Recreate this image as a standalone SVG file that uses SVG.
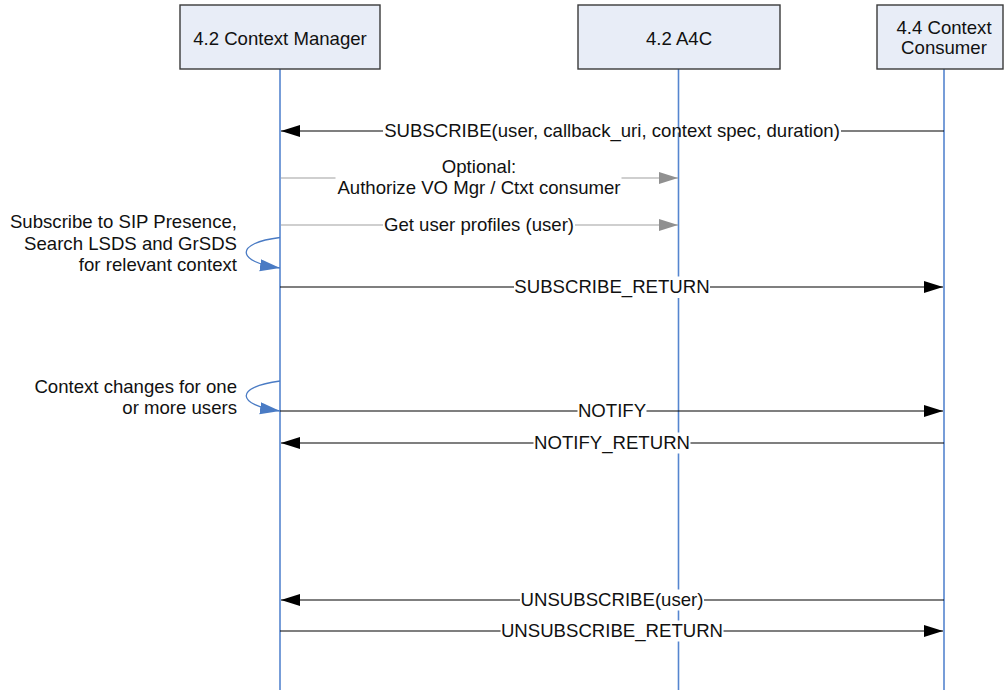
<svg xmlns="http://www.w3.org/2000/svg" width="1005" height="690" viewBox="0 0 1005 690">
<defs>
<style>
.box{fill:#E8EDF7;stroke:#3a3a3a;stroke-width:1.4}
.life{stroke:#5585CF;stroke-width:1.6;fill:none}
.t{font-family:"Liberation Sans",Arial,sans-serif;font-size:18.6px;fill:#111}
.msg{stroke:#000;stroke-width:1.2;fill:none;marker-end:url(#ah)}
.gmsg{stroke:#A0A0A0;stroke-width:1.2;fill:none;marker-end:url(#gah)}
.loop{stroke:#4A7BC4;stroke-width:1.3;fill:none;marker-end:url(#bah)}
.bg{fill:#fff}
</style>
<marker id="ah" markerUnits="userSpaceOnUse" markerWidth="20" markerHeight="14" refX="19" refY="6" orient="auto"><path d="M0,0 L19,6 L0,12 z" fill="#000"/></marker>
<marker id="gah" markerUnits="userSpaceOnUse" markerWidth="20" markerHeight="14" refX="19" refY="6" orient="auto"><path d="M0,0 L19,6 L0,12 z" fill="#909090"/></marker>
<marker id="bah" markerUnits="userSpaceOnUse" markerWidth="22" markerHeight="14" refX="20" refY="6" orient="auto"><path d="M0,0 L20,6 L0,12 z" fill="#4A7BC4"/></marker>
</defs>
<rect width="1005" height="690" fill="#fff"/>

<g id="lifelines">
<line class="life" x1="280" y1="69" x2="280" y2="690"/>
<line class="life" x1="678.5" y1="69" x2="678.5" y2="690"/>
<line class="life" x1="944" y1="69" x2="944" y2="690"/>
</g>

<g id="node-context-manager">
<rect class="box" x="180" y="5" width="200" height="64"/>
<text class="t" x="280" y="44.5" text-anchor="middle">4.2 Context Manager</text>
</g>
<g id="node-a4c">
<rect class="box" x="578" y="5" width="202" height="64"/>
<text class="t" x="679" y="44.5" text-anchor="middle">4.2 A4C</text>
</g>
<g id="node-context-consumer">
<rect class="box" x="877" y="5" width="126" height="64"/>
<text class="t" x="944" y="33.5" text-anchor="middle">4.4 Context</text>
<text class="t" x="944" y="53.5" text-anchor="middle">Consumer</text>
</g>

<g id="connectors">
<line class="msg" x1="944" y1="131" x2="281" y2="131"/>
<line x1="383" y1="131" x2="841" y2="131" stroke="#fff" stroke-width="3"/>
<text class="t" x="612" y="137" text-anchor="middle">SUBSCRIBE(user, callback_uri, context spec, duration)</text>

<line class="gmsg" x1="281" y1="178" x2="678" y2="178"/>
<rect class="bg" x="335.5" y="160" width="286" height="38"/>
<text class="t" x="479" y="173" text-anchor="middle">Optional:</text>
<text class="t" x="479" y="194" text-anchor="middle">Authorize VO Mgr / Ctxt consumer</text>

<line class="gmsg" x1="281" y1="225" x2="678" y2="225"/>
<rect class="bg" x="383" y="215" width="192" height="20"/>
<text class="t" x="479" y="231" text-anchor="middle">Get user profiles (user)</text>

<path class="loop" d="M280,237.5 C234,243 236,262 280,268"/>

<line class="msg" x1="280" y1="287" x2="943" y2="287"/>
<rect class="bg" x="514" y="276.5" width="196" height="21.5"/>
<text class="t" x="612" y="293" text-anchor="middle">SUBSCRIBE_RETURN</text>

<path class="loop" d="M280,381 C234,387 236,405 280,411"/>

<line class="msg" x1="280" y1="411" x2="943" y2="411"/>
<rect class="bg" x="577.5" y="400.5" width="69" height="21"/>
<text class="t" x="612" y="417" text-anchor="middle">NOTIFY</text>

<line class="msg" x1="944" y1="443" x2="281" y2="443"/>
<rect class="bg" x="533.5" y="432.5" width="157" height="21"/>
<text class="t" x="612" y="449" text-anchor="middle">NOTIFY_RETURN</text>

<line class="msg" x1="944" y1="600" x2="281" y2="600"/>
<rect class="bg" x="520" y="589.5" width="184" height="21"/>
<text class="t" x="612" y="606" text-anchor="middle">UNSUBSCRIBE(user)</text>

<line class="msg" x1="280" y1="631" x2="943" y2="631"/>
<rect class="bg" x="500.5" y="620.5" width="223" height="21"/>
<text class="t" x="612" y="637" text-anchor="middle">UNSUBSCRIBE_RETURN</text>
</g>

<g id="notes">
<text class="t" x="237" y="228" text-anchor="end">Subscribe to SIP Presence,</text>
<text class="t" x="237" y="249.5" text-anchor="end">Search LSDS and GrSDS</text>
<text class="t" x="237" y="270.5" text-anchor="end">for relevant context</text>
<text class="t" x="237" y="393" text-anchor="end">Context changes for one</text>
<text class="t" x="237" y="414" text-anchor="end">or more users</text>
</g>
</svg>
